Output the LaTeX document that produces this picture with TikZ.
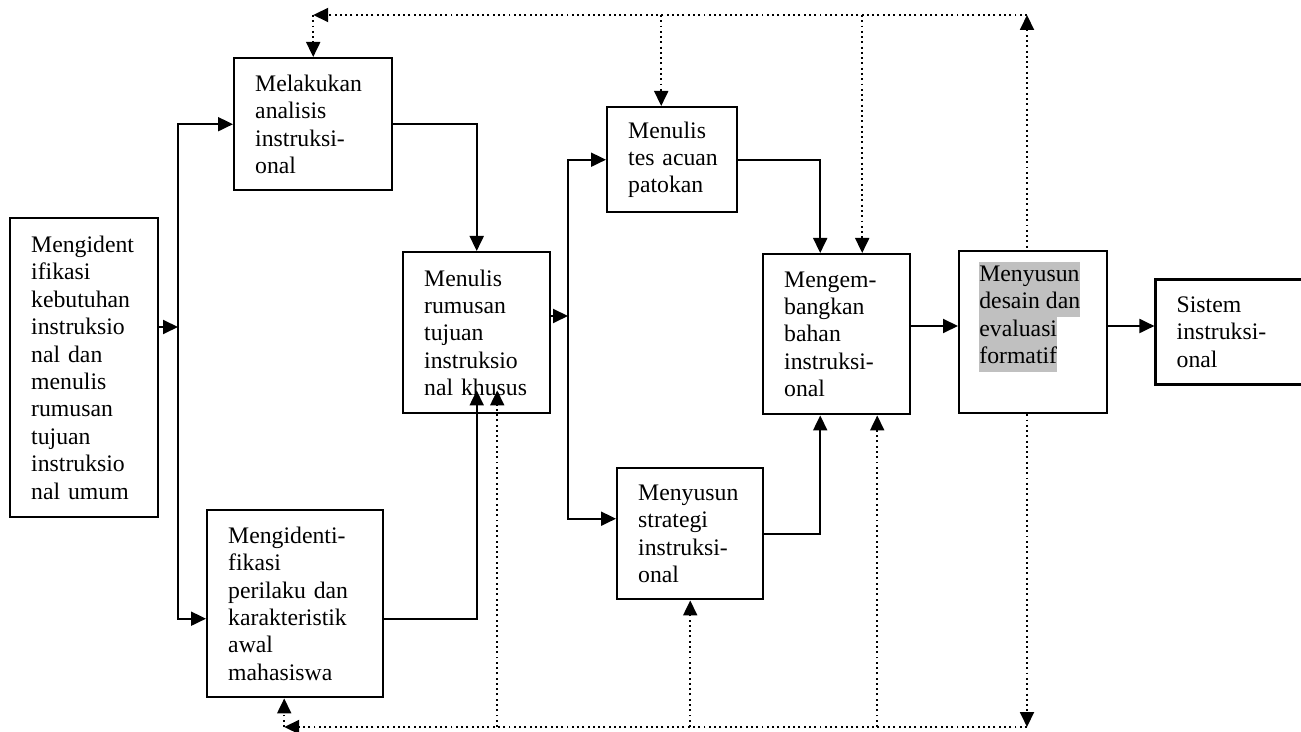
\documentclass[tikz,border=0pt]{standalone}
\usepackage{fontspec}
\setmainfont{Liberation Serif}
\usepackage{xcolor}
\usepackage{tikz}
\usetikzlibrary{positioning,arrows.meta,backgrounds,calc}
\definecolor{hlgray}{RGB}{192,192,192}
\setlength{\fboxsep}{0pt}

\begin{document}
\begin{tikzpicture}[
  x=0.02cm, y=-0.02cm,
  font=\fontsize{13.5}{15.6}\selectfont,
  box/.style={draw, line width=1.4pt, fill=white, anchor=north west, align=left, inner xsep=0.42cm, inner ysep=0pt},
  arr/.style={-{Triangle[length=0.3cm, width=0.28cm]}, line width=1.1pt},
  fbarr/.style={-{Triangle[length=0.3cm, width=0.28cm]}, line width=1.1pt, dash pattern=on 1.1pt off 1.9pt}]
\useasboundingbox (0,0) rectangle (1301,732);

% Steps
\node[box, minimum width=2.96cm, minimum height=5.98cm, text width=2.12cm] (A) at (9,217)
  {Mengident\\ifikasi\\kebutuhan\\instruksio\\nal~dan\\menulis\\rumusan\\tujuan\\instruksio\\nal~umum};
\node[box, minimum width=3.16cm, minimum height=2.64cm, text width=2.32cm] (B) at (233,57)
  {Melakukan\\analisis\\instruksi-\\onal};
\node[box, minimum width=3.52cm, minimum height=3.74cm, text width=2.68cm] (C) at (206,509)
  {Mengidenti-\\fikasi\\perilaku~dan\\karakteristik\\awal\\mahasiswa};
\node[box, minimum width=2.94cm, minimum height=3.22cm, text width=2.10cm] (D) at (402,251)
  {Menulis\\rumusan\\tujuan\\instruksio\\nal~khusus};
\node[box, minimum width=2.60cm, minimum height=2.10cm, text width=1.76cm] (E) at (606,106)
  {Menulis\\tes~acuan\\patokan};
\node[box, minimum width=2.92cm, minimum height=2.62cm, text width=2.08cm] (F) at (616,467)
  {Menyusun\\strategi\\instruksi-\\onal};
\node[box, minimum width=2.94cm, minimum height=3.20cm, text width=2.10cm] (G) at (762,253)
  {Mengem-\\bangkan\\bahan\\instruksi-\\onal};
\node[box, minimum width=2.96cm, minimum height=3.24cm] (H) at (958,250) {};
\node[anchor=north west, inner sep=0pt, align=left] (Htext) at ([xshift=0.42cm, yshift=-0.24cm]H.north west)
  {\colorbox{hlgray}{\strut Menyusun}\\\colorbox{hlgray}{\strut desain dan}\\\colorbox{hlgray}{\strut evaluasi}\\\colorbox{hlgray}{\strut formatif}};
\node[box, right=0.92cm of H, minimum width=2.94cm, minimum height=2.10cm, text width=2.10cm] (I)
  {Sistem\\instruksi-\\onal};

% Junctions and feedback rows
\coordinate (top) at (0,15);
\coordinate (bot) at (0,727);
\coordinate (loop) at (1027,0);
\coordinate (jA) at (178,327);
\coordinate (jD) at (568,316);
\coordinate (mid) at (0,326);

% Main flow
\draw[arr] (A.east |- jA) -- (jA);
\draw[arr] (jA) |- (B.west);
\draw[arr] (jA) |- ([yshift=-0.3cm]C.west);
\draw[arr] (B.east) -| (D.north);
\draw[arr] ([yshift=-0.3cm]C.east) -| ([yshift=0.48cm]D.south);
\draw[arr] (D.east |- jD) -- (jD);
\draw[arr] (jD) |- (E.west);
\draw[arr] (jD) |- ([yshift=0.3cm]F.west);
\draw[arr] (E.east) -| ([xshift=-0.33cm]G.north);
\draw[arr] (F.east) -| ([xshift=-0.33cm]G.south);
\draw[arr] (G.east |- mid) -- (H.west |- mid);
\draw[arr] (H.east |- mid) -- (I.west |- mid);

% Revision loop (dotted)
\begin{scope}[on background layer]
\draw[fbarr, {Triangle[length=0.3cm, width=0.28cm]}-{Triangle[length=0.3cm, width=0.28cm]}] (loop |- top) -- (loop |- bot);
\end{scope}
\draw[fbarr] (loop |- top) -- (B.north |- top);
\draw[fbarr] (B.north |- top) -- (B.north);
\draw[fbarr] ([xshift=-0.22cm]E.north |- top) -- ([xshift=-0.22cm]E.north);
\draw[fbarr] ([xshift=0.51cm]G.north |- top) -- ([xshift=0.51cm]G.north);
\draw[fbarr] (loop |- bot) -- ([xshift=-0.22cm]C.south |- bot);
\draw[fbarr] ([xshift=-0.22cm]C.south |- bot) -- ([xshift=-0.22cm]C.south);
\draw[fbarr] ([xshift=0.41cm]D.south |- bot) -- ([xshift=0.41cm, yshift=0.48cm]D.south);
\draw[fbarr] (F.south |- bot) -- (F.south);
\draw[fbarr] ([xshift=0.81cm]G.south |- bot) -- ([xshift=0.81cm]G.south);
\end{tikzpicture}
\end{document}
